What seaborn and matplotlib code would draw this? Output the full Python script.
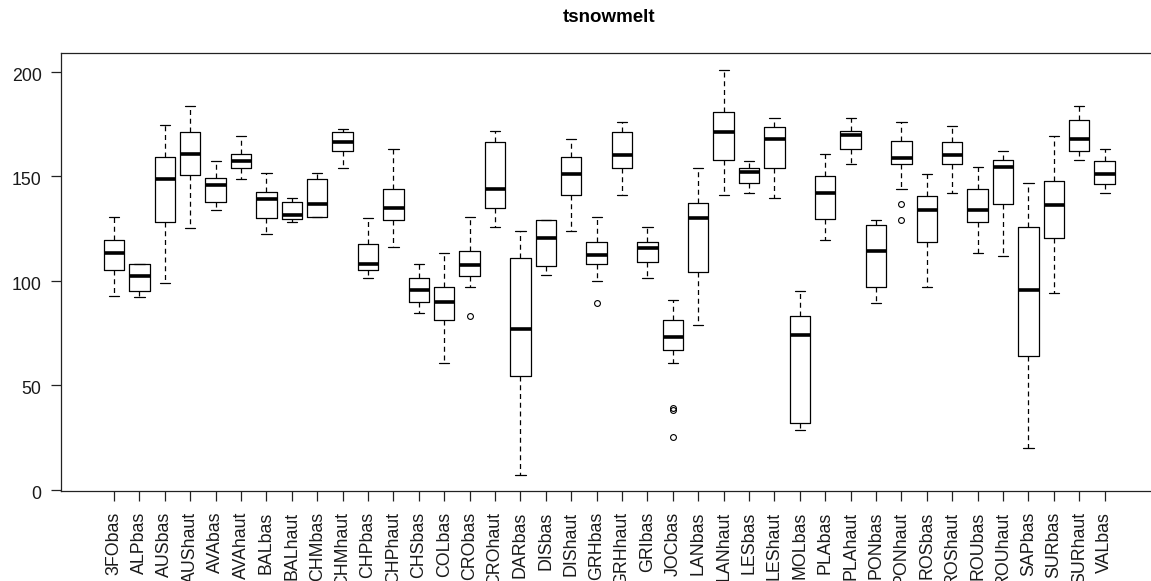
import numpy as np
import pandas as pd
import matplotlib
matplotlib.use("Agg")
import matplotlib.pyplot as plt
import matplotlib.transforms as mtransforms
import seaborn as sns

# ---- data (five-number summaries per station) ----
categories = ["3FObas", "ALPbas", "AUSbas", "AUShaut", "AVAbas", "AVAhaut", "BALbas", "BALhaut",
              "CHMbas", "CHMhaut", "CHPbas", "CHPhaut", "CHSbas", "COLbas", "CRObas", "CROhaut",
              "DARbas", "DISbas", "DIShaut", "GRHbas", "GRHhaut", "GRIbas", "JOCbas", "LANbas",
              "LANhaut", "LESbas", "LEShaut", "MOLbas", "PLAbas", "PLAhaut", "PONbas", "PONhaut",
              "ROSbas", "ROShaut", "ROUbas", "ROUhaut", "SAPbas", "SURbas", "SURhaut", "VALbas"]

lower_whisker = [92.7, 92.0, 98.8, 125.3, 133.6, 148.8, 122.2, 128.1,
                 130.7, 154.0, 101.1, 116.2, 84.3, 60.8, 97.0, 125.9,
                 7.2, 102.8, 124.0, 100.0, 140.8, 101.1, 60.8, 78.9,
                 140.8, 142.1, 139.7, 28.3, 119.3, 155.9, 89.2, 143.9,
                 96.8, 142.1, 113.2, 111.9, 20.0, 94.0, 157.8, 142.1]
q1 = [105.2, 95.2, 128.1, 150.4, 137.8, 154.0, 129.9, 129.4,
      130.7, 162.0, 105.2, 128.8, 89.6, 81.3, 102.0, 135.0,
      54.2, 107.1, 140.8, 107.8, 154.0, 108.9, 66.8, 104.1,
      157.8, 146.9, 154.0, 32.0, 129.4, 163.1, 96.8, 155.9,
      118.6, 155.9, 128.1, 136.5, 63.9, 120.3, 162.0, 146.3]
median = [113.2, 102.2, 148.8, 160.7, 145.6, 157.2, 138.9, 131.3,
          136.5, 166.3, 107.8, 134.9, 95.7, 89.6, 107.6, 143.9,
          77.1, 120.3, 151.2, 112.1, 160.1, 115.6, 72.8, 130.1,
          171.1, 151.9, 167.9, 74.1, 142.1, 169.8, 114.3, 158.8,
          133.7, 160.1, 133.7, 154.6, 95.7, 136.1, 167.9, 151.2]
q3 = [119.3, 107.8, 159.0, 171.1, 149.3, 160.7, 142.6, 137.8,
      148.7, 171.1, 117.5, 144.0, 101.1, 96.8, 114.0, 166.3,
      110.8, 128.9, 159.0, 118.6, 171.1, 118.6, 81.3, 137.3,
      180.6, 154.0, 173.4, 83.2, 149.9, 171.6, 126.4, 166.8,
      140.3, 166.3, 143.9, 157.8, 125.9, 147.5, 176.9, 157.2]
upper_whisker = [130.7, 107.8, 174.5, 183.8, 157.2, 169.2, 151.5, 139.7,
                 151.5, 172.6, 130.1, 162.9, 107.8, 113.2, 130.7, 171.6,
                 124.0, 128.9, 167.9, 130.7, 175.8, 125.9, 90.9, 154.0,
                 201.0, 157.2, 177.6, 95.2, 160.6, 177.6, 128.8, 175.8,
                 151.1, 173.9, 154.6, 162.0, 146.9, 169.2, 183.6, 163.1]
outliers = {
    "CRObas": [83.0],
    "GRHbas": [89.2],
    "JOCbas": [39.1, 38.0, 25.3],
    "PONhaut": [136.5, 128.8],
}

# ---- build per-station samples whose quartiles/whiskers equal the read summaries ----
rows = []
for i, cat in enumerate(categories):
    out = outliers.get(cat, [])
    k = len(out)
    vals = (list(out) + [lower_whisker[i]] + [q1[i]] * (k + 1) + [median[i]]
            + [q3[i]] * (k + 1) + [upper_whisker[i]] * (k + 1))
    for v in vals:
        rows.append((cat, v))
df = pd.DataFrame(rows, columns=["station", "tsnowmelt"])

# ---- figure ----
sns.set_theme(style="white")
plt.rcParams["font.family"] = ["Liberation Sans", "DejaVu Sans"]

W, H = 1151, 581
fig = plt.figure(figsize=(W / 100, H / 100), dpi=100)
left_px, right_px, top_px, bottom_px = 60.7, 1158.0, 53.3, 491.3
ax = fig.add_axes([left_px / W, 1 - bottom_px / H,
                   (right_px - left_px) / W, (bottom_px - top_px) / H])
ax.patch.set_edgecolor("none")
ax.patch.set_linewidth(0)

sns.boxplot(
    data=df, x="station", y="tsnowmelt", order=categories, ax=ax,
    fill=False, linecolor="black", color="black", width=0.8, whis=1.5,
    linewidth=0.9,
    medianprops={"linewidth": 2.6, "color": "black", "solid_capstyle": "butt"},
    whiskerprops={"linestyle": (0, (4, 3)), "color": "black", "linewidth": 0.9},
    capprops={"color": "black", "linewidth": 0.9},
    boxprops={"color": "black", "linewidth": 0.9},
    flierprops={"marker": "o", "markersize": 4.2, "markerfacecolor": "none",
                "markeredgecolor": "black", "markeredgewidth": 0.8},
)

ax.set_xlim(-2.1, 41.1)
ax.set_ylim(-0.8, 208.8)
ax.set_yticks([0, 50, 100, 150, 200])
ax.set_xticks(range(len(categories)))
ax.set_xticklabels(categories, rotation=90, va="top", ha="center")
ax.set_xlabel("")
ax.set_ylabel("")
ax.tick_params(axis="both", direction="out", length=7.3, width=0.9, color="#222222",
               labelcolor="#1a1a1a", labelsize=12.8)
ax.tick_params(axis="x", pad=7.5)
ax.tick_params(axis="y", pad=6.5)
ax.xaxis.set_ticks_position("bottom")
ax.yaxis.set_ticks_position("left")
# nudge y tick labels down slightly, as in the reference
offset = mtransforms.ScaledTranslation(0, -2.5 / 100, fig.dpi_scale_trans)
for lab in ax.get_yticklabels():
    lab.set_transform(lab.get_transform() + offset)
for name, s in ax.spines.items():
    s.set_visible(name != "right")
    s.set_color("#222222")
    s.set_linewidth(0.9)
ax.grid(False)

fig.text((left_px + right_px) / 2 / W, 1 - 18 / H, "tsnowmelt",
         ha="center", va="center", fontsize=13.5, fontweight="bold", color="black")

fig.savefig("out.png", dpi=100)
